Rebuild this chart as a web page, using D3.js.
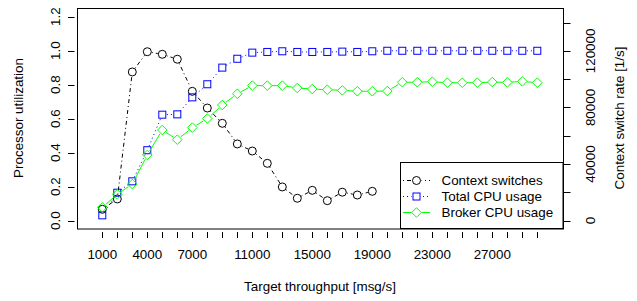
<!DOCTYPE html>
<html><head><meta charset="utf-8">
<script src="https://cdn.jsdelivr.net/npm/d3@7"></script>
<style>body{margin:0;background:#fff}svg{display:block}text{font-family:"Liberation Sans",Arial,sans-serif;fill:#000}</style>
</head><body><svg id="c" width="637" height="301"></svg>
<script>
const throughput = d3.range(1000, 30001, 1000);
const xLabels = [1000, 4000, 7000, 11000, 15000, 19000, 23000, 27000];
const contextSwitches = [8000, 15300, 105100, 119400, 117600, 114100, 91400, 79600, 68800, 54200, 49200, 40500, 23800, 15800, 21400, 14100, 20100, 18100, 20700];
const totalCpu = [0.031, 0.164, 0.231, 0.414, 0.623, 0.625, 0.725, 0.802, 0.900, 0.952, 0.988, 0.992, 0.996, 0.992, 0.992, 0.992, 0.994, 0.992, 0.996, 0.999, 0.999, 0.999, 0.999, 0.999, 0.999, 0.999, 0.999, 0.999, 0.999, 0.999];
const brokerCpu = [0.078, 0.155, 0.215, 0.386, 0.533, 0.476, 0.547, 0.600, 0.680, 0.746, 0.794, 0.794, 0.794, 0.780, 0.774, 0.770, 0.766, 0.761, 0.761, 0.762, 0.814, 0.814, 0.817, 0.811, 0.811, 0.811, 0.815, 0.813, 0.819, 0.811];
const leftTicks = [0, 0.2, 0.4, 0.6, 0.8, 1.0, 1.2];
const rightTicks = d3.range(0, 140001, 20000);
const rightLabels = [0, 40000, 80000, 120000];
const legendNames = ["Context switches", "Total CPU usage", "Broker CPU usage"];

const svg = d3.select("#c");
const box = {l: 77, r: 563, t: 8, b: 228.5};
const x = d3.scaleLinear().domain([1000, 30000]).range([102.3, 537.3]);
const yL = d3.scaleLinear().domain([0, 1.2]).range([220.6, 16.6]);
const yR = d3.scaleLinear().domain([0, 140000]).range([220.6, 22.6]);
const FS = "13.4px";

// plot box
svg.append("rect").attr("x", box.l + 0.5).attr("y", box.t + 0.5)
  .attr("width", box.r - box.l).attr("height", box.b - box.t)
  .attr("fill", "none").attr("stroke", "#000").attr("stroke-width", 1);

// bottom axis
const gx = svg.append("g");
gx.selectAll("line").data(throughput).join("line")
  .attr("x1", d => Math.round(x(d)) + 0.5).attr("x2", d => Math.round(x(d)) + 0.5)
  .attr("y1", 232).attr("y2", 238).attr("stroke", "#000");
gx.selectAll("text").data(xLabels).join("text")
  .attr("x", d => x(d)).attr("y", 259).attr("text-anchor", "middle")
  .style("font-size", FS).text(d => d);
svg.append("text").attr("x", 320).attr("y", 291).attr("text-anchor", "middle")
  .style("font-size", FS).text("Target throughput [msg/s]");

// left axis
const gl = svg.append("g");
gl.selectAll("line").data(leftTicks).join("line")
  .attr("x1", 68).attr("x2", 74.5)
  .attr("y1", d => Math.round(yL(d)) + 0.5).attr("y2", d => Math.round(yL(d)) + 0.5)
  .attr("stroke", "#000");
gl.selectAll("text").data(leftTicks).join("text")
  .attr("transform", d => `translate(60,${yL(d)}) rotate(-90)`)
  .attr("text-anchor", "middle").style("font-size", FS).text(d => d.toFixed(1));
svg.append("text").attr("transform", "translate(23,118) rotate(-90)")
  .attr("text-anchor", "middle").style("font-size", FS).text("Processor utilization");

// right axis
const gr = svg.append("g");
gr.selectAll("line").data(rightTicks).join("line")
  .attr("x1", 563).attr("x2", 570.5)
  .attr("y1", d => Math.round(yR(d)) + 0.5).attr("y2", d => Math.round(yR(d)) + 0.5)
  .attr("stroke", "#000");
gr.selectAll("text").data(rightLabels).join("text")
  .attr("transform", d => `translate(595,${yR(d)}) rotate(-90)`)
  .attr("text-anchor", "middle").style("font-size", FS).text(d => d);
svg.append("text").attr("transform", "translate(624,118) rotate(-90)")
  .attr("text-anchor", "middle").style("font-size", FS).text("Context switch rate [1/s]");

// series drawing with gaps (type="b")
function drawSeries(pts, color, dash, shape) {
  const gap = 4.6;
  const g = svg.append("g");
  for (let i = 0; i < pts.length - 1; i++) {
    const [x1, y1] = pts[i], [x2, y2] = pts[i + 1];
    const dx = x2 - x1, dy = y2 - y1, len = Math.hypot(dx, dy);
    if (len <= 2 * gap) continue;
    const ux = dx / len, uy = dy / len;
    g.append("line")
      .attr("x1", x1 + ux * gap).attr("y1", y1 + uy * gap)
      .attr("x2", x2 - ux * gap).attr("y2", y2 - uy * gap)
      .attr("stroke", color).attr("stroke-width", 1)
      .attr("stroke-dasharray", dash);
  }
  pts.forEach(p => marker(g, p[0], p[1], color, shape));
}
function marker(g, cx, cy, color, shape) {
  if (shape === "circle") {
    g.append("circle").attr("cx", cx).attr("cy", cy).attr("r", 4)
      .attr("fill", "none").attr("stroke", color);
  } else if (shape === "square") {
    g.append("rect").attr("x", cx - 3.5).attr("y", cy - 3.5).attr("width", 7).attr("height", 7)
      .attr("fill", "none").attr("stroke", color);
  } else {
    const r = 4.8;
    g.append("path").attr("d", `M${cx},${cy - r}L${cx + r},${cy}L${cx},${cy + r}L${cx - r},${cy}Z`)
      .attr("fill", "none").attr("stroke", color);
  }
}
const csPts = contextSwitches.map((v, i) => [x(throughput[i]), yR(v)]);
const totPts = totalCpu.map((v, i) => [x(throughput[i]), yL(v)]);
const brkPts = brokerCpu.map((v, i) => [x(throughput[i]), yL(v)]);
const styles = [
  {color: "#000", dash: "1,3,4,3", shape: "circle"},
  {color: "#0000ff", dash: "1,3", shape: "square"},
  {color: "#00ff00", dash: null, shape: "diamond"}
];
drawSeries(csPts, styles[0].color, styles[0].dash, styles[0].shape);
drawSeries(totPts, styles[1].color, styles[1].dash, styles[1].shape);
drawSeries(brkPts, styles[2].color, styles[2].dash, styles[2].shape);

// legend
const lg = svg.append("g");
lg.append("rect").attr("x", 400.5).attr("y", 162.5).attr("width", 162.5).attr("height", 66)
  .attr("fill", "#fff").attr("stroke", "#000");
legendNames.forEach((name, i) => {
  const yy = 180 + i * 16, s = styles[i];
  lg.append("line").attr("x1", 403).attr("x2", 430).attr("y1", yy + 0.5).attr("y2", yy + 0.5)
    .attr("stroke", s.color).attr("stroke-dasharray", s.dash);
  lg.append("rect").attr("x", 411.5).attr("y", yy - 4.5).attr("width", 10).attr("height", 10).attr("fill", "#fff");
  marker(lg, 416.5, yy + 0.5, s.color, s.shape);
  lg.append("text").attr("x", 441.5).attr("y", yy + 4.7).style("font-size", FS).text(name);
});
</script></body></html>
